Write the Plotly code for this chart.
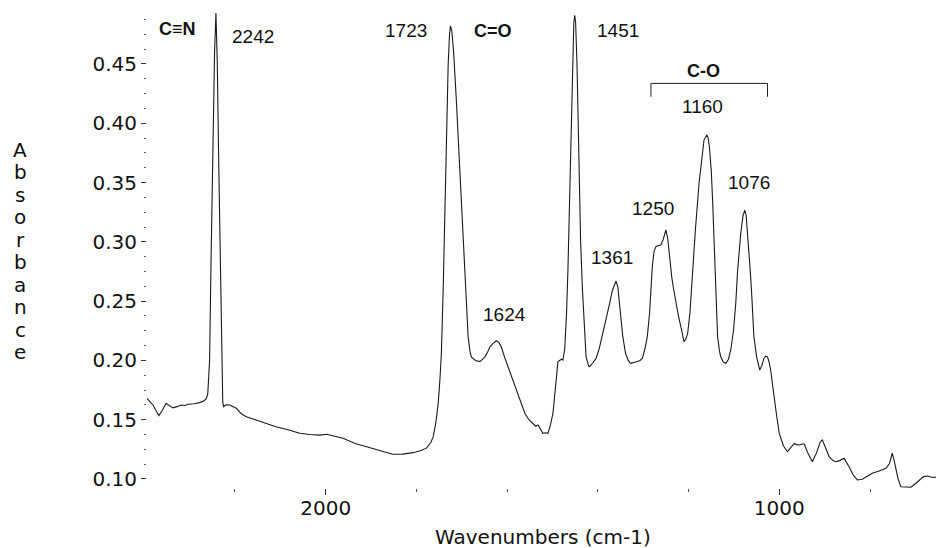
import plotly.graph_objects as go

# ---- data (wavenumber cm-1, absorbance) ----
wavenumber = [
    2394, 2380, 2368, 2360, 2352, 2345, 2337, 2328, 2318, 2310, 2304, 2290, 2278, 2268, 2263,
    2260, 2256, 2253, 2249, 2245, 2242, 2239, 2236, 2232, 2229, 2227, 2225, 2220, 2212, 2204,
    2197, 2186, 2175, 2155, 2131, 2110, 2087, 2070, 2057, 2035, 2013, 1998, 1980, 1962, 1935,
    1910, 1880, 1852, 1830, 1807, 1790, 1778, 1768, 1763, 1757, 1752, 1748, 1745, 1741, 1737,
    1734, 1730, 1727, 1725, 1722, 1718, 1712, 1706, 1701, 1697, 1693, 1689, 1686, 1682, 1679,
    1670, 1660, 1654, 1649, 1643, 1638, 1632, 1628, 1624, 1618, 1613, 1605, 1598, 1590, 1583,
    1576, 1568, 1561, 1552, 1543, 1537, 1532, 1527, 1521, 1515, 1510, 1505, 1499, 1494, 1488,
    1480, 1477, 1473, 1469, 1466, 1462, 1458, 1455, 1453, 1451, 1449, 1446, 1442, 1438, 1434,
    1430, 1426, 1420, 1418, 1411, 1404, 1397, 1389, 1381, 1374, 1368, 1363, 1360, 1356, 1350,
    1345, 1339, 1333, 1328, 1322, 1318, 1313, 1307, 1302, 1296, 1291, 1286, 1283, 1280, 1276,
    1272, 1266, 1261, 1256, 1250, 1246, 1243, 1237, 1233, 1228, 1222, 1217, 1213, 1210, 1206,
    1202, 1197, 1191, 1185, 1177, 1170, 1166, 1160, 1157, 1154, 1150, 1147, 1144, 1141, 1138,
    1136, 1132, 1129, 1124, 1118, 1112, 1107, 1101, 1096, 1092, 1088, 1085, 1080, 1076, 1073,
    1070, 1066, 1063, 1060, 1056, 1050, 1043, 1038, 1034, 1030, 1026, 1022, 1019, 1015, 1011,
    1005, 1000, 991, 982, 975, 967, 962, 956, 950, 945, 936, 927, 918, 910, 905,
    898, 890, 883, 876, 867, 857, 852, 846, 838, 828, 817, 806, 795, 780, 765,
    757, 751, 747, 743, 738, 732, 720, 710, 700, 691, 682, 673, 664, 655,
]
absorbance = [
    0.168, 0.162, 0.1534, 0.158, 0.1638, 0.162, 0.160, 0.161, 0.1624, 0.162, 0.163, 0.1635, 0.1644, 0.166, 0.168,
    0.172, 0.200, 0.280, 0.380, 0.460, 0.493, 0.450, 0.370, 0.270, 0.200, 0.165, 0.161, 0.1625, 0.1624, 0.161,
    0.1596, 0.155, 0.1525, 0.150, 0.147, 0.144, 0.142, 0.140, 0.1385, 0.1375, 0.137, 0.1377, 0.136, 0.1343, 0.130,
    0.1272, 0.1235, 0.1208, 0.121, 0.1222, 0.124, 0.126, 0.131, 0.1357, 0.148, 0.1638, 0.185, 0.206, 0.260, 0.330,
    0.390, 0.450, 0.475, 0.482, 0.478, 0.460, 0.4195, 0.375, 0.335, 0.300, 0.270, 0.240, 0.220, 0.208, 0.203,
    0.200, 0.199, 0.201, 0.203, 0.207, 0.2115, 0.214, 0.2155, 0.2166, 0.215, 0.2115, 0.202, 0.1947, 0.187, 0.180,
    0.1722, 0.163, 0.1554, 0.150, 0.147, 0.1445, 0.1455, 0.142, 0.1385, 0.139, 0.1385, 0.145, 0.1554, 0.175, 0.199,
    0.201, 0.2003, 0.210, 0.240, 0.276, 0.340, 0.410, 0.460, 0.485, 0.491, 0.485, 0.450, 0.380, 0.300, 0.260,
    0.225, 0.203, 0.195, 0.1947, 0.198, 0.2017, 0.210, 0.2228, 0.235, 0.248, 0.259, 0.265, 0.267, 0.262, 0.2397,
    0.220, 0.206, 0.200, 0.1975, 0.198, 0.1985, 0.199, 0.200, 0.2017, 0.210, 0.220, 0.240, 0.2593, 0.279, 0.292,
    0.296, 0.297, 0.2973, 0.302, 0.310, 0.303, 0.290, 0.270, 0.260, 0.248, 0.237, 0.2284, 0.220, 0.2157, 0.218,
    0.2228, 0.240, 0.276, 0.310, 0.349, 0.375, 0.3858, 0.390, 0.388, 0.380, 0.360, 0.335, 0.300, 0.270, 0.240,
    0.220, 0.208, 0.203, 0.199, 0.1975, 0.201, 0.2088, 0.225, 0.248, 0.275, 0.295, 0.307, 0.322, 0.3268, 0.322,
    0.307, 0.290, 0.270, 0.250, 0.220, 0.203, 0.1919, 0.196, 0.2017, 0.2035, 0.203, 0.198, 0.1919, 0.180, 0.1666,
    0.151, 0.1385, 0.128, 0.123, 0.126, 0.130, 0.129, 0.1287, 0.1295, 0.1295, 0.121, 0.1146, 0.122, 0.131, 0.1329,
    0.127, 0.1188, 0.116, 0.1146, 0.1155, 0.1174, 0.114, 0.1104, 0.104, 0.0992, 0.0997, 0.102, 0.1048, 0.1068, 0.109,
    0.113, 0.1217, 0.116, 0.1076, 0.100, 0.0935, 0.093, 0.093, 0.096, 0.0992, 0.102, 0.1025, 0.1015, 0.1014,
]

x_range = [2394, 654.5]
y_range = [0.0924, 0.4955]

# peak / group labels: (text, pixel x, pixel y, bold)
peak_labels = [
    ("C≡N", 177, 29, True),
    ("2242", 253, 37, False),
    ("1723", 406, 31, False),
    ("C=O", 493, 31, True),
    ("1451", 618, 30, False),
    ("1361", 612, 257, False),
    ("1624", 504, 314, False),
    ("1250", 653, 208, False),
    ("C-O", 703, 71, True),
    ("1160", 702, 107, False),
    ("1076", 749, 182, False),
]

# C-O bracket span (wavenumbers) and heights (absorbance)
bracket_x = [1283, 1026]
bracket_y = [0.4223, 0.4336]

y_title_letters = list("Absorbance")

# ---- layout geometry ----
W, H = 936, 548
L, R, T, B = 147, 0, 10, 60
PW, PH = W - L - R, H - T - B


def px_x(x):
    return (x - L) / PW


def px_y(y):
    return (H - B - y) / PH


fig = go.Figure()
fig.add_trace(go.Scatter(
    x=wavenumber, y=absorbance, mode="lines",
    line=dict(color="#1a1a1a", width=1.1), hoverinfo="x+y", showlegend=False,
))

annotations = []
for text, x, y, bold in peak_labels:
    annotations.append(dict(
        text=f"<b>{text}</b>" if bold else text,
        x=px_x(x), y=px_y(y), xref="paper", yref="paper",
        xanchor="center", yanchor="middle", showarrow=False,
        font=dict(family="Liberation Sans, Arial, sans-serif", size=18 if bold else 19, color="#111"),
    ))

# vertical stacked y-axis title
for i, ch in enumerate(y_title_letters):
    annotations.append(dict(
        text=ch, x=px_x(20), y=px_y(150 + i * 22.45), xref="paper", yref="paper",
        xanchor="center", yanchor="middle", showarrow=False,
        font=dict(family="DejaVu Sans, sans-serif", size=20, color="#111"),
    ))

# x-axis title
annotations.append(dict(
    text="Wavenumbers (cm-1)", x=px_x(543), y=px_y(537), xref="paper", yref="paper",
    xanchor="center", yanchor="middle", showarrow=False,
    font=dict(family="DejaVu Sans, sans-serif", size=20, color="#111"),
))

shapes = [
    dict(type="line", xref="x", yref="y", x0=bracket_x[0], x1=bracket_x[1],
         y0=bracket_y[1], y1=bracket_y[1], line=dict(color="#222", width=1)),
    dict(type="line", xref="x", yref="y", x0=bracket_x[0], x1=bracket_x[0],
         y0=bracket_y[0], y1=bracket_y[1], line=dict(color="#222", width=1)),
    dict(type="line", xref="x", yref="y", x0=bracket_x[1], x1=bracket_x[1],
         y0=bracket_y[0], y1=bracket_y[1], line=dict(color="#222", width=1)),
]

fig.update_layout(
    width=W, height=H,
    margin=dict(l=L, r=R, t=T, b=B, autoexpand=False),
    paper_bgcolor="white", plot_bgcolor="white",
    font=dict(family="DejaVu Sans, sans-serif", size=20, color="#111"),
    annotations=annotations, shapes=shapes, showlegend=False,
    xaxis=dict(
        range=x_range, showgrid=False, zeroline=False, showline=False,
        tickmode="linear", tick0=0, dtick=1000,
        ticks="outside", ticklen=6, tickwidth=1, tickcolor="#333",
        tickfont=dict(family="DejaVu Sans, sans-serif", size=20, color="#111"),
        ticklabelstandoff=-4,
        minor=dict(tick0=0, dtick=200, ticks="outside", ticklen=3, tickwidth=1, tickcolor="#555", showgrid=False),
    ),
    yaxis=dict(
        range=y_range, showgrid=False, zeroline=False, showline=False,
        tickmode="linear", tick0=0, dtick=0.05, tickformat=".2f",
        ticks="outside", ticklen=5, tickwidth=1, tickcolor="#333",
        tickfont=dict(family="DejaVu Sans, sans-serif", size=20, color="#111"),
        ticklabelstandoff=0,
        minor=dict(tick0=0, dtick=0.0125, ticks="outside", ticklen=2, tickwidth=1, tickcolor="#555", showgrid=False),
    ),
)

fig.write_html("out.html")
